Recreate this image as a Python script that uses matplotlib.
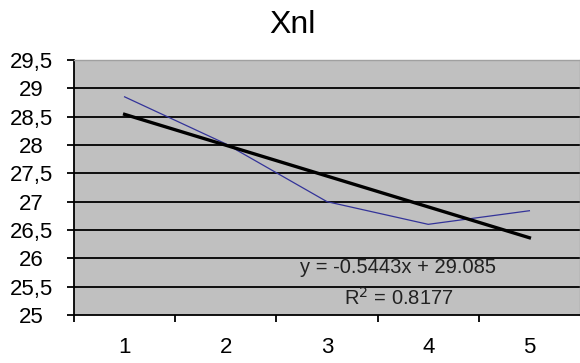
import matplotlib
matplotlib.use("Agg")
import matplotlib.pyplot as plt
import numpy as np
from matplotlib.ticker import FixedLocator

plt.rcParams['font.family'] = ['Liberation Sans', 'DejaVu Sans']

# data
categories = [1, 2, 3, 4, 5]
xnl = [28.85, 28.02, 27.0, 26.6, 26.84]
y_ticks = [25, 25.5, 26, 26.5, 27, 27.5, 28, 28.5, 29, 29.5]
y_labels = ['25', '25,5', '26', '26,5', '27', '27,5', '28', '28,5', '29', '29,5']
slope = -0.5443
intercept = 29.085
r2 = 0.8177

fig = plt.figure(figsize=(5.8, 3.63), dpi=100)
ax = fig.add_axes([74 / 580, 48 / 363, 506 / 580, 255 / 363])
ax.set_facecolor('#c0c0c0')

# horizontal grid
for v in y_ticks[1:-1]:
    ax.axhline(v, color='black', lw=1.3, zorder=1)

ax.plot(categories, xnl, color='#333399', lw=0.9, zorder=3)

trend = [slope * c + intercept for c in categories]
ax.plot([categories[0], categories[-1]], [trend[0], trend[-1]],
        color='black', lw=2.4, zorder=4)

ax.text(0.641, 0.188, 'y = %.4fx + %.3f' % (slope, intercept), transform=ax.transAxes,
        ha='center', va='center', fontsize=14.5, color='#222222', zorder=5)
ax.text(0.641, 0.066, 'R$^2$ = %.4f' % r2, transform=ax.transAxes,
        ha='center', va='center', fontsize=14.5, color='#222222', zorder=5)

ax.set_xlim(0.5, 5.5)
ax.set_ylim(25, 29.5)

ax.set_xticks(categories)
ax.set_xticklabels([str(c) for c in categories], fontsize=16)
ax.xaxis.set_minor_locator(FixedLocator([0.5, 1.5, 2.5, 3.5, 4.5]))
ax.tick_params(axis='x', which='major', length=0, pad=16)
ax.tick_params(axis='x', which='minor', length=5, width=1.3, direction='out')

ax.set_yticks(y_ticks)
ax.set_yticklabels(y_labels, fontsize=16)
ax.tick_params(axis='y', length=5, width=1.3, direction='out', pad=25.5)
for lab in ax.get_yticklabels():
    lab.set_horizontalalignment('center')

for s in ['left', 'bottom']:
    ax.spines[s].set_color('black')
    ax.spines[s].set_linewidth(1.3)
for s in ['top', 'right']:
    ax.spines[s].set_color('#a0a0a0')
    ax.spines[s].set_linewidth(1.0)

fig.text(0.505, 0.931, 'Xnl', ha='center', va='center', fontsize=23)

fig.savefig('out.png', dpi=100)
